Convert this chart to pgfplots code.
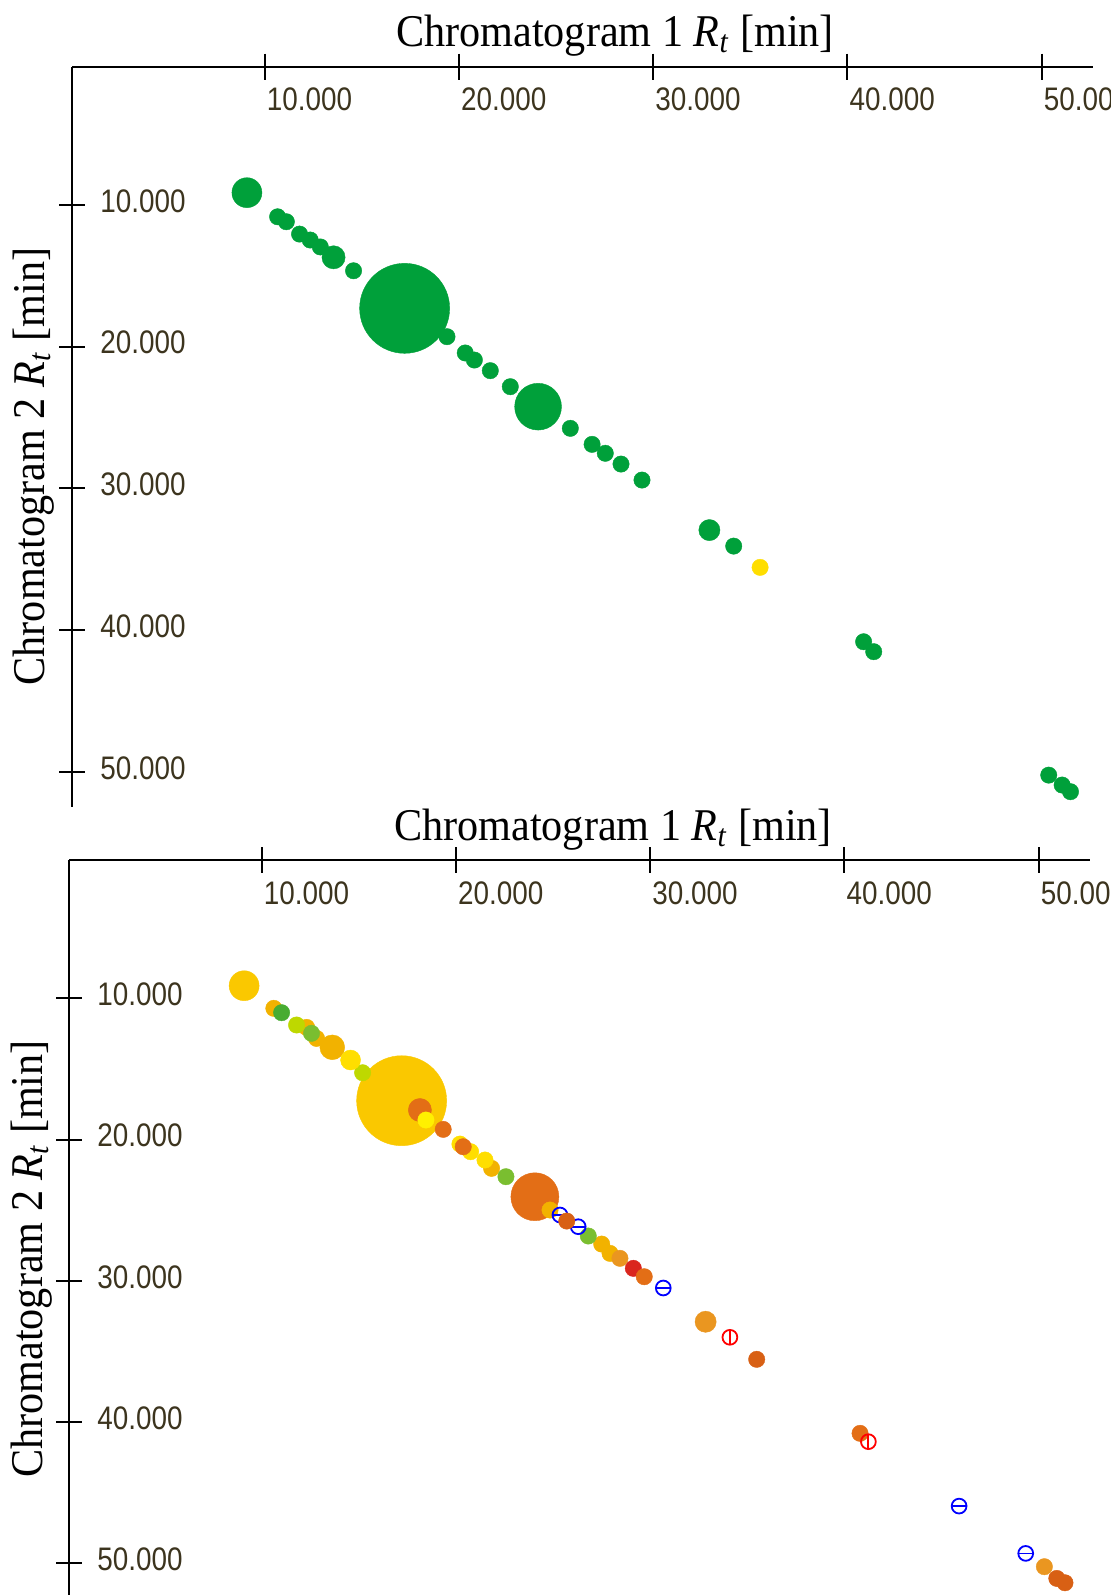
\documentclass[border=0pt]{standalone}
\usepackage{fontspec}
\setmainfont{Liberation Serif}
\newfontfamily\tickfont[FakeStretch=0.855]{Liberation Sans}
\newfontfamily\titlefont[FakeStretch=0.93]{Liberation Serif}
\usepackage{pgfplots}
\pgfplotsset{compat=1.18}
\definecolor{tickcol}{RGB}{60,52,30}
\definecolor{cG}{RGB}{0,160,58}
\definecolor{cY}{RGB}{255,222,0}
\definecolor{gold}{RGB}{250,200,0}
\definecolor{ogold}{RGB}{242,178,0}
\definecolor{grn}{RGB}{72,172,50}
\definecolor{midg}{RGB}{122,190,48}
\definecolor{lime}{RGB}{190,216,0}
\definecolor{ylw}{RGB}{255,222,0}
\definecolor{bylw}{RGB}{255,240,0}
\definecolor{org}{RGB}{227,110,22}
\definecolor{orgb}{RGB}{234,150,32}
\definecolor{dorg}{RGB}{216,96,20}
\definecolor{rd}{RGB}{218,38,30}
\pgfplotsset{
  chrom/.style={
    scale only axis, width=510.35pt, height=370pt,
    y dir=reverse,
    xmin=0.1, xmax=52.65,
    axis x line=top, axis y line=left,
    axis line style={-, line width=1pt, black},
    xtick={10,20,30,40,50}, ytick={10,20,30,40,50},
    xticklabels={10.000,20.000,30.000,40.000,50.000},
    yticklabels={10.000,20.000,30.000,40.000,50.000},
    tick align=center, major tick length=13pt,
    tick style={line width=1pt, black},
    xticklabel style={anchor=north west, inner sep=0pt, xshift=1pt, yshift=-17pt,
      font=\tickfont\fontsize{16.3pt}{18pt}\selectfont, text=tickcol},
    yticklabel style={anchor=west, inner sep=0pt, xshift=20.35pt, yshift=2pt,
      font=\tickfont\fontsize{16.3pt}{18pt}\selectfont, text=tickcol},
  },
  dot/.style={only marks, mark=*, color=#1, mark options={line width=0.2pt}},
  ring/.style={only marks, mark=o, line width=0.9pt, color=#1, mark size=3.7pt},
}
\begin{document}
\begin{tikzpicture}
\path[use as bounding box] (0pt,0pt) rectangle (555pt,-797.5pt);
% ---------------- top panel ----------------
\begin{axis}[chrom, at={(36.15pt,-33.35pt)}, anchor=north west, ymin=0.24, ymax=52.46]
\addplot[dot=cG, mark size=22.5pt] coordinates {(17.21,17.29)};
\addplot[dot=cG, mark size=7.5pt] coordinates {(9.09,9.13)};
\addplot[dot=cG, mark size=11.7pt] coordinates {(24.08,24.23)};
\addplot[dot=cG, mark size=5.8pt] coordinates {(13.55,13.69)};
\addplot[dot=cG, mark size=5.3pt] coordinates {(32.90,32.94)};
\addplot[dot=cG, mark size=4.1pt] coordinates {
 (10.67,10.83) (11.12,11.18) (11.80,12.05) (12.35,12.47) (12.87,12.96)
 (14.58,14.64) (19.39,19.29) (20.33,20.44) (20.80,20.94) (21.62,21.69)
 (22.65,22.82) (25.74,25.76) (26.86,26.89) (27.54,27.52) (28.35,28.28)
 (29.43,29.41) (34.15,34.07) (40.84,40.82) (41.36,41.52)
 (50.37,50.23) (51.06,50.93) (51.49,51.40)};
\addplot[dot=cY, mark size=4.1pt] coordinates {(35.51,35.57)};
\end{axis}
\node[anchor=base, font=\titlefont\fontsize{22.7pt}{26pt}\selectfont] at (307.5pt,-23.35pt)
  {Chromatogram 1 \textit{R}\textsubscript{\textit{t}} [min]};
\node[anchor=base, rotate=90, font=\titlefont\fontsize{22.7pt}{26pt}\selectfont] at (22pt,-233.25pt)
  {Chromatogram 2 \textit{R}\textsubscript{\textit{t}} [min]};
% ---------------- bottom panel ----------------
\begin{axis}[chrom, at={(34.65pt,-430pt)}, anchor=north west, ymin=0.21, ymax=52.60]
\addplot[dot=gold, mark size=22.5pt] coordinates {(17.21,17.25)};
\addplot[dot=gold, mark size=7.5pt] coordinates {(9.10,9.11)};
\addplot[dot=org, mark size=12pt] coordinates {(24.07,24.05)};
\addplot[dot=ogold, mark size=4.1pt] coordinates {
 (10.63,10.71) (12.32,12.06) (12.83,12.84) (21.84,22.04) (24.85,24.99)
 (27.51,27.40) (27.94,28.06)};
\addplot[dot=grn, mark size=4.1pt] coordinates {(11.03,11.02)};
\addplot[dot=midg, mark size=4.1pt] coordinates {(12.57,12.48) (22.58,22.63) (26.82,26.83)};
\addplot[dot=lime, mark size=4.1pt] coordinates {(11.80,11.89) (15.20,15.27)};
\addplot[dot=ogold, mark size=6.2pt] coordinates {(13.64,13.47)};
\addplot[dot=ylw, mark size=5pt] coordinates {(14.58,14.37)};
\addplot[dot=ylw, mark size=4.1pt] coordinates {(20.21,20.32) (20.76,20.86) (21.50,21.45)};
\addplot[dot=org, mark size=5.8pt] coordinates {(18.15,17.91)};
\addplot[dot=bylw, mark size=4.1pt] coordinates {(18.46,18.62)};
\addplot[dot=org, mark size=4.1pt] coordinates {(19.35,19.28) (20.38,20.51)};
\addplot[ring=blue] coordinates {(25.36,25.34) (26.30,26.17)};
\addplot[only marks, mark=-, mark size=3.7pt, line width=0.9pt, blue] coordinates {(25.36,25.34) (26.30,26.17)};
\addplot[dot=dorg, mark size=4.1pt] coordinates {(25.71,25.77)};
\addplot[dot=orgb, mark size=4.1pt] coordinates {(28.45,28.41)};
\addplot[dot=rd, mark size=4.1pt] coordinates {(29.14,29.12)};
\addplot[dot=org, mark size=4.1pt] coordinates {(29.70,29.71)};
\addplot[ring=blue] coordinates {(30.68,30.51) (45.91,45.95) (49.34,49.30)};
\addplot[only marks, mark=-, mark size=3.7pt, line width=0.9pt, blue] coordinates {(30.68,30.51) (45.91,45.95) (49.34,49.30)};
\addplot[dot=orgb, mark size=5.3pt] coordinates {(32.86,32.90)};
\addplot[dot=dorg, mark size=4.1pt] coordinates {(35.49,35.56)};
\addplot[dot=org, mark size=4.1pt] coordinates {(40.81,40.80)};
\addplot[ring=red] coordinates {(34.11,34.00) (41.24,41.39)};
\addplot[only marks, mark=|, mark size=3.7pt, line width=0.9pt, red] coordinates {(34.11,34.00) (41.24,41.39)};
\addplot[dot=orgb, mark size=4.1pt] coordinates {(50.30,50.24)};
\addplot[dot=dorg, mark size=4.1pt] coordinates {(50.94,51.07) (51.36,51.38)};
\end{axis}
\node[anchor=base, font=\titlefont\fontsize{22.7pt}{26pt}\selectfont] at (306.5pt,-420.2pt)
  {Chromatogram 1 \textit{R}\textsubscript{\textit{t}} [min]};
\node[anchor=base, rotate=90, font=\titlefont\fontsize{22.7pt}{26pt}\selectfont] at (21pt,-629.5pt)
  {Chromatogram 2 \textit{R}\textsubscript{\textit{t}} [min]};
\end{tikzpicture}
\end{document}
